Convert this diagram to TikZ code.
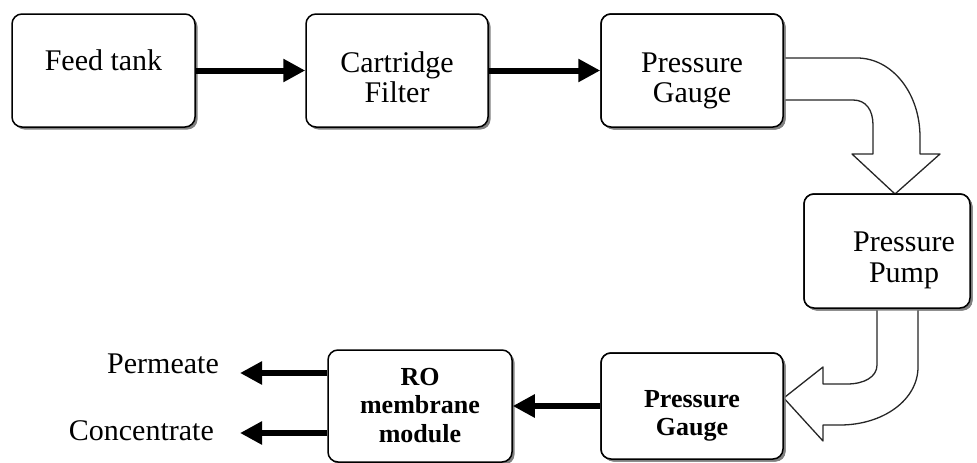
\documentclass[tikz,border=0pt]{standalone}
\usepackage{fontspec}
\setmainfont{Liberation Serif}
\usetikzlibrary{arrows.meta,shadows,calc}
\newcommand\boxtext[2]{\raisebox{#1}[\height][\depth]{\begin{tabular}{@{}c@{}}#2\end{tabular}}}
\begin{document}
\begin{tikzpicture}[x=1pt,y=-1pt,
  box/.style={draw=black, line width=1.5pt, rounded corners=10pt, fill=white,
    drop shadow={shadow xshift=2.5pt, shadow yshift=-2.5pt, fill=black!50, opacity=1},
    inner sep=0pt, font=\fontsize{30}{30.5}\selectfont},
  boldbox/.style={box, font=\fontsize{26}{28.5}\selectfont\bfseries},
  lbl/.style={inner sep=0pt, font=\fontsize{30}{31}\selectfont},
  flow/.style={line width=6pt, -{Triangle[length=22pt,width=22pt]}},
  blockarrow/.style={draw=black!85, line width=1.3pt, fill=white, line join=round}
]
\useasboundingbox (0,0) rectangle (977,463);

% nodes
\node[box, minimum width=183pt, minimum height=113pt] (feed) at (103.5,70.5) {\boxtext{6pt}{Feed tank}};
\node[box, minimum width=182pt, minimum height=113pt] (cart) at (397,70.5) {\boxtext{-11pt}{Cartridge\\Filter}};
\node[box, minimum width=182pt, minimum height=113pt] (pg1) at (692,70.5) {\boxtext{-11pt}{Pressure\\Gauge}};
\node[box, minimum width=166pt, minimum height=114pt] (pump) at (887,251) {\hspace*{34pt}\boxtext{-10pt}{Pressure\\Pump}};
\node[boldbox, minimum width=182pt, minimum height=106pt] (pg2) at (692,406) {\boxtext{-10pt}{Pressure\\Gauge}};
\node[boldbox, minimum width=184pt, minimum height=112pt] (ro) at (420,406) {\boxtext{-2pt}{RO\\membrane\\module}};

\node[lbl, anchor=east] (perm) at (219,364) {Permeate};
\node[lbl, anchor=east] (conc) at (214,431) {Concentrate};

% block arrows
\draw[blockarrow] ($(pg1.east)+(0,-12.5)$) -- (857,58)
  .. controls (892,58) and (920,93) .. (920,137) -- (920,154) -- (940,154)
  -- (895,194) -- (852,154) -- (873,154) -- (873,125)
  .. controls (873,110) and (866,100) .. (853,100) -- ($(pg1.east)+(0,29.5)$);
\draw[blockarrow] ($(pump.south)+(-10,0)$) -- (877,365)
  .. controls (877,377) and (864,384) .. (847,384) -- (823,384) -- (823,367)
  -- ($(pg2.east)+(0,-8)$) -- (823,441) -- (823,425) -- (840,425)
  .. controls (883,425) and (918,400) .. (918,367) -- ($(pump.south)+(31,0)$);

% redraw boxes touched by block arrows on top
\node[box, minimum width=182pt, minimum height=113pt] at (pg1) {\boxtext{-11pt}{Pressure\\Gauge}};
\node[box, minimum width=166pt, minimum height=114pt] at (pump) {\hspace*{34pt}\boxtext{-10pt}{Pressure\\Pump}};
\node[boldbox, minimum width=182pt, minimum height=106pt] at (pg2) {\boxtext{-10pt}{Pressure\\Gauge}};

% flow arrows
\draw[flow] (feed.east) -- (cart.west);
\draw[flow] (cart.east) -- (pg1.west);
\draw[flow] (pg2.west) -- (pg2.west -| ro.east);
\coordinate (permend) at (240,373);
\coordinate (concend) at (240,433);
\draw[flow] (ro.west |- permend) -- (permend);
\draw[flow] (ro.west |- concend) -- (concend);
\end{tikzpicture}
\end{document}
